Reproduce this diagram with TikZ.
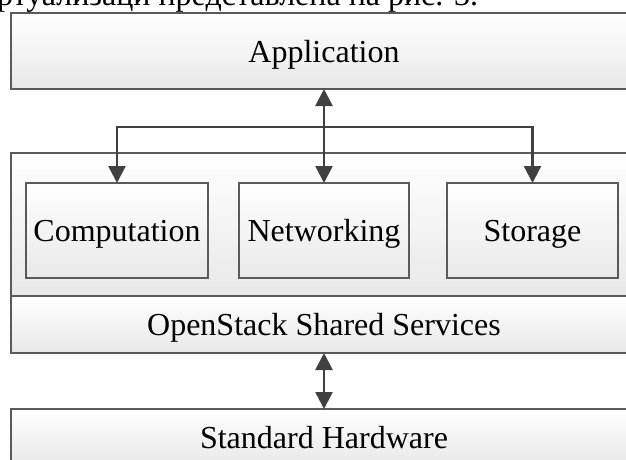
\documentclass[tikz,border=0pt]{standalone}
\usepackage{fontspec}
\setmainfont{Liberation Serif}
\usetikzlibrary{arrows.meta}
\definecolor{edgec}{HTML}{5A5A5A}
\definecolor{arrc}{HTML}{404040}
\definecolor{shadebot}{HTML}{E8E8E8}
\begin{document}
\begin{tikzpicture}[x=1pt,y=-1pt,
  box/.style={draw=edgec, line width=1.3pt, top color=white, bottom color=shadebot,
    inner sep=0pt, outer sep=0pt, text height=22pt, text depth=0pt,
    font=\fontsize{32}{38}\selectfont},
  lbl/.style={font=\fontsize{32}{38}\selectfont, inner sep=0pt},
  tipk/.tip={Triangle[length=17pt,width=17pt]},
  both/.style={draw=arrc, line width=2.4pt, line join=miter, tipk-tipk}]
\useasboundingbox (0,0) rectangle (626,459);
\fill[white] (0,0) rectangle (626,459);
\clip (0,0) rectangle (626,459);

% cut-off caption line from the page above
\node[lbl, anchor=base west] (caption) at (-3,5) {ртуализаци представлена на рис. 3.};

% boxes
\node[box, minimum width=626pt, minimum height=76pt] (app) at (324,51) {Application};
\node[box, minimum width=626pt, minimum height=143pt] (cont) at (324,224.5) {};
\node[box, minimum width=626pt, minimum height=57pt] (oss) at (324,324.5) {OpenStack Shared Services};
\node[box, minimum width=182pt, minimum height=95pt] (comp) at (117,230.5) {Computation};
\node[box, minimum width=170pt, minimum height=95pt] (net) at (324,230.5) {Networking};
\node[box, minimum width=171pt, minimum height=95pt] (stor) at (532.5,230.5) {Storage};
\node[box, minimum width=626pt, minimum height=56pt] (hw) at (324,437) {Standard Hardware};

% connectors
\coordinate (hl) at (comp.north |- 0,127);
\coordinate (hr) at (stor.north |- 0,127);
\draw[both] (app.south) -- (net.north);
\draw[both] (comp.north) -- (hl) -- (hr) -- (stor.north);
\draw[both] (oss.south) -- (hw.north);
\end{tikzpicture}
\end{document}
